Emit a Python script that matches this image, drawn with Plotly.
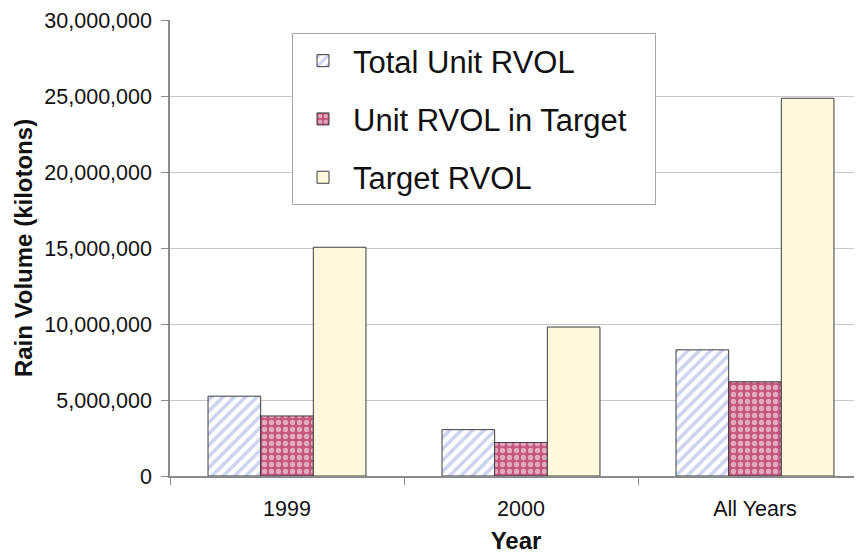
import plotly.graph_objects as go

categories = ["1999", "2000", "All Years"]
total_unit_rvol = [5250000, 3050000, 8300000]
unit_rvol_in_target = [3950000, 2200000, 6200000]
target_rvol = [15050000, 9800000, 24850000]
y_ticks = [0, 5000000, 10000000, 15000000, 20000000, 25000000, 30000000]

FONT = "Arial, Liberation Sans, sans-serif"
edge = dict(color="#3c3c3c", width=1)

fig = go.Figure()
fig.add_trace(go.Bar(
    name="Total Unit RVOL", x=categories, y=total_unit_rvol, legendgroup="a",
    marker=dict(color="white", line=edge,
                pattern=dict(shape="/", fgcolor="#9ea8dc", bgcolor="white", size=8, solidity=0.45)),
))
fig.add_trace(go.Bar(
    name="Unit RVOL in Target\u00a0\u00a0\u2009", x=categories, y=unit_rvol_in_target, legendgroup="b",
    marker=dict(color="#c4557f", line=edge,
                pattern=dict(shape=".", fgcolor="white", bgcolor="#c4557f", size=7, solidity=0.45)),
))
fig.add_trace(go.Bar(
    name="Target RVOL", x=categories, y=target_rvol, legendgroup="c",
    marker=dict(color="#fff8dc", line=edge),
))

# The page body adds an 8px offset; the figure is sized so it ends at the window edge.
OFF = 8
W, H = 862 - OFF, 554 - OFF
L, R, T, B = 170 - OFF, 0, 20 - OFF, 78
PW, PH = W - L - R, H - T - B

fig.update_layout(
    width=W, height=H,
    margin=dict(l=L, r=R, t=T, b=B, autoexpand=False),
    paper_bgcolor="white", plot_bgcolor="white",
    font=dict(family=FONT, color="#111111", size=20),
    barmode="group", bargap=0.325, bargroupgap=0,
    showlegend=True,
    legend=dict(
        x=(292 - 170) / PW, y=1 - (33 - 20) / PH, xanchor="left", yanchor="top",
        font=dict(size=31, family=FONT, color="#111111"),
        bgcolor="white", bordercolor="#a8a8a8", borderwidth=1,
        traceorder="grouped", tracegroupgap=15, itemwidth=50,
    ),
    xaxis=dict(
        type="category", range=[-0.5, -0.5 + PW / 234], automargin=False,
        showline=True, linecolor="#8a8a8a", linewidth=1.5,
        ticks="outside", tickson="boundaries", ticklen=7, tickcolor="#8a8a8a",
        ticklabelstandoff=12,
        tickfont=dict(size=21.5, family=FONT, color="#111111"),
        title=dict(text="<b>Year</b>", font=dict(size=24, family=FONT, color="#111111"), standoff=28),
        showgrid=False,
    ),
    yaxis=dict(
        range=[0, 30000000], tickvals=y_ticks, tickformat=",d", automargin=False,
        showline=True, linecolor="#8a8a8a", linewidth=1.5,
        ticks="outside", ticklen=7, tickcolor="#8a8a8a",
        ticklabelstandoff=5,
        tickfont=dict(size=21.5, family=FONT, color="#111111"),
        showgrid=True, gridcolor="#c8c8c8", gridwidth=1,
        zeroline=False,
        title=dict(text="<b>Rain Volume (kilotons)</b>", font=dict(size=24, family=FONT, color="#111111"), standoff=5),
    ),
)

fig.write_html("out.html")
